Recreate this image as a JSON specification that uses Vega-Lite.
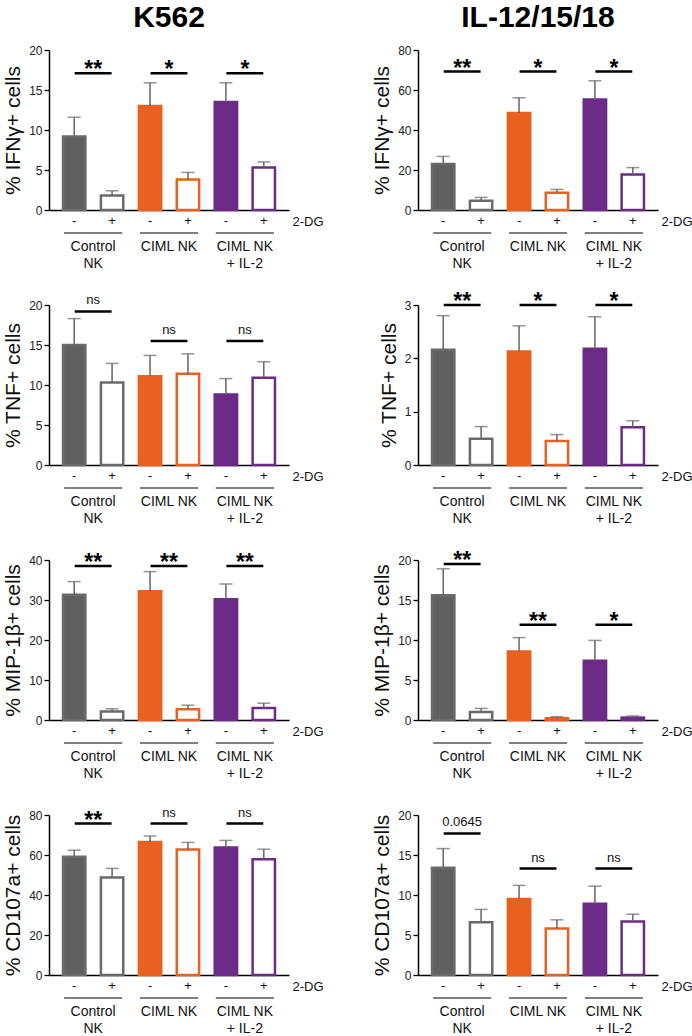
{
  "$schema": "https://vega.github.io/schema/vega-lite/v6.json",
  "padding": {"left": 2, "top": 3, "right": 16, "bottom": 3},
  "background": "white",
  "columns": 2,
  "bounds": "flush",
  "spacing": {"row": 95, "column": 129},
  "datasets": {
    "bars": [
      {"panel": "p1", "group": "Control NK", "treat": "-", "mean": 9.2, "upper": 11.6},
      {"panel": "p1", "group": "Control NK", "treat": "+", "mean": 1.8, "upper": 2.4},
      {"panel": "p1", "group": "CIML NK", "treat": "-", "mean": 13.0, "upper": 15.9},
      {"panel": "p1", "group": "CIML NK", "treat": "+", "mean": 3.8, "upper": 4.7},
      {"panel": "p1", "group": "CIML NK + IL-2", "treat": "-", "mean": 13.5, "upper": 15.9},
      {"panel": "p1", "group": "CIML NK + IL-2", "treat": "+", "mean": 5.3, "upper": 6.0},
      {"panel": "p2", "group": "Control NK", "treat": "-", "mean": 23.0, "upper": 26.8},
      {"panel": "p2", "group": "Control NK", "treat": "+", "mean": 4.6, "upper": 6.3},
      {"panel": "p2", "group": "CIML NK", "treat": "-", "mean": 48.5, "upper": 56.1},
      {"panel": "p2", "group": "CIML NK", "treat": "+", "mean": 8.6, "upper": 10.3},
      {"panel": "p2", "group": "CIML NK + IL-2", "treat": "-", "mean": 55.3, "upper": 64.6},
      {"panel": "p2", "group": "CIML NK + IL-2", "treat": "+", "mean": 17.8, "upper": 21.2},
      {"panel": "p3", "group": "Control NK", "treat": "-", "mean": 15.0, "upper": 18.3},
      {"panel": "p3", "group": "Control NK", "treat": "+", "mean": 10.3, "upper": 12.7},
      {"panel": "p3", "group": "CIML NK", "treat": "-", "mean": 11.1, "upper": 13.7},
      {"panel": "p3", "group": "CIML NK", "treat": "+", "mean": 11.4, "upper": 13.9},
      {"panel": "p3", "group": "CIML NK + IL-2", "treat": "-", "mean": 8.8, "upper": 10.8},
      {"panel": "p3", "group": "CIML NK + IL-2", "treat": "+", "mean": 10.9, "upper": 12.9},
      {"panel": "p4", "group": "Control NK", "treat": "-", "mean": 2.16, "upper": 2.8},
      {"panel": "p4", "group": "Control NK", "treat": "+", "mean": 0.49, "upper": 0.72},
      {"panel": "p4", "group": "CIML NK", "treat": "-", "mean": 2.13, "upper": 2.61},
      {"panel": "p4", "group": "CIML NK", "treat": "+", "mean": 0.45, "upper": 0.57},
      {"panel": "p4", "group": "CIML NK + IL-2", "treat": "-", "mean": 2.18, "upper": 2.78},
      {"panel": "p4", "group": "CIML NK + IL-2", "treat": "+", "mean": 0.71, "upper": 0.83},
      {"panel": "p5", "group": "Control NK", "treat": "-", "mean": 31.3, "upper": 34.6},
      {"panel": "p5", "group": "Control NK", "treat": "+", "mean": 2.1, "upper": 2.8},
      {"panel": "p5", "group": "CIML NK", "treat": "-", "mean": 32.2, "upper": 37.1},
      {"panel": "p5", "group": "CIML NK", "treat": "+", "mean": 2.7, "upper": 3.7},
      {"panel": "p5", "group": "CIML NK + IL-2", "treat": "-", "mean": 30.2, "upper": 34.0},
      {"panel": "p5", "group": "CIML NK + IL-2", "treat": "+", "mean": 3.0, "upper": 4.2},
      {"panel": "p6", "group": "Control NK", "treat": "-", "mean": 15.6, "upper": 18.9},
      {"panel": "p6", "group": "Control NK", "treat": "+", "mean": 1.0, "upper": 1.45},
      {"panel": "p6", "group": "CIML NK", "treat": "-", "mean": 8.55, "upper": 10.3},
      {"panel": "p6", "group": "CIML NK", "treat": "+", "mean": 0.22, "upper": 0.4},
      {"panel": "p6", "group": "CIML NK + IL-2", "treat": "-", "mean": 7.4, "upper": 9.95},
      {"panel": "p6", "group": "CIML NK + IL-2", "treat": "+", "mean": 0.3, "upper": 0.5},
      {"panel": "p7", "group": "Control NK", "treat": "-", "mean": 59.1, "upper": 62.4},
      {"panel": "p7", "group": "Control NK", "treat": "+", "mean": 48.8, "upper": 53.3},
      {"panel": "p7", "group": "CIML NK", "treat": "-", "mean": 66.5, "upper": 69.5},
      {"panel": "p7", "group": "CIML NK", "treat": "+", "mean": 62.7, "upper": 66.3},
      {"panel": "p7", "group": "CIML NK + IL-2", "treat": "-", "mean": 63.7, "upper": 67.3},
      {"panel": "p7", "group": "CIML NK + IL-2", "treat": "+", "mean": 57.9, "upper": 62.9},
      {"panel": "p8", "group": "Control NK", "treat": "-", "mean": 13.4, "upper": 15.8},
      {"panel": "p8", "group": "Control NK", "treat": "+", "mean": 6.6, "upper": 8.2},
      {"panel": "p8", "group": "CIML NK", "treat": "-", "mean": 9.5, "upper": 11.2},
      {"panel": "p8", "group": "CIML NK", "treat": "+", "mean": 5.8, "upper": 6.9},
      {"panel": "p8", "group": "CIML NK + IL-2", "treat": "-", "mean": 8.9, "upper": 11.1},
      {"panel": "p8", "group": "CIML NK + IL-2", "treat": "+", "mean": 6.7, "upper": 7.6}
    ],
    "sig": [
      {"panel": "p1", "group": "Control NK", "sig": "**", "bracket": 17.1},
      {"panel": "p1", "group": "CIML NK", "sig": "*", "bracket": 17.1},
      {"panel": "p1", "group": "CIML NK + IL-2", "sig": "*", "bracket": 17.1},
      {"panel": "p2", "group": "Control NK", "sig": "**", "bracket": 69.2},
      {"panel": "p2", "group": "CIML NK", "sig": "*", "bracket": 69.2},
      {"panel": "p2", "group": "CIML NK + IL-2", "sig": "*", "bracket": 69.2},
      {"panel": "p3", "group": "Control NK", "sig": "ns", "bracket": 19.2},
      {"panel": "p3", "group": "CIML NK", "sig": "ns", "bracket": 15.5},
      {"panel": "p3", "group": "CIML NK + IL-2", "sig": "ns", "bracket": 15.5},
      {"panel": "p4", "group": "Control NK", "sig": "**", "bracket": 3.0},
      {"panel": "p4", "group": "CIML NK", "sig": "*", "bracket": 3.0},
      {"panel": "p4", "group": "CIML NK + IL-2", "sig": "*", "bracket": 3.0},
      {"panel": "p5", "group": "Control NK", "sig": "**", "bracket": 38.5},
      {"panel": "p5", "group": "CIML NK", "sig": "**", "bracket": 38.5},
      {"panel": "p5", "group": "CIML NK + IL-2", "sig": "**", "bracket": 38.5},
      {"panel": "p6", "group": "Control NK", "sig": "**", "bracket": 19.5},
      {"panel": "p6", "group": "CIML NK", "sig": "**", "bracket": 11.9},
      {"panel": "p6", "group": "CIML NK + IL-2", "sig": "*", "bracket": 11.9},
      {"panel": "p7", "group": "Control NK", "sig": "**", "bracket": 75.7},
      {"panel": "p7", "group": "CIML NK", "sig": "ns", "bracket": 75.7},
      {"panel": "p7", "group": "CIML NK + IL-2", "sig": "ns", "bracket": 75.7},
      {"panel": "p8", "group": "Control NK", "sig": "0.0645", "bracket": 17.7},
      {"panel": "p8", "group": "CIML NK", "sig": "ns", "bracket": 13.3},
      {"panel": "p8", "group": "CIML NK + IL-2", "sig": "ns", "bracket": 13.3}
    ]
  },
  "concat": [
    {
      "width": 240, "height": 160,
      "title": {"text": "K562"},
      "encoding": {
        "x": {"field": "group", "type": "nominal", "sort": null, "title": "2-DG", "scale": {"domain": ["Control NK", "CIML NK", "CIML NK + IL-2"], "paddingInner": 0.176, "paddingOuter": 0.17}, "axis": {"labelExpr": "datum.value == 'Control NK' ? ['Control', 'NK'] : datum.value == 'CIML NK + IL-2' ? ['CIML NK', '+ IL-2'] : datum.value"}},
        "y": {"field": "mean", "type": "quantitative", "title": "% IFNγ+ cells", "scale": {"domain": [0, 20], "nice": false}, "axis": {"values": [0, 5, 10, 15, 20]}}
      },
      "layer": [
        {"data": {"name": "bars"}, "transform": [{"filter": "datum.panel == 'p1'"}], "mark": {"type": "bar", "strokeWidth": 2.5}, "encoding": {"xOffset": {"field": "treat", "type": "nominal", "sort": null, "scale": {"domain": ["-", "+"], "paddingInner": 0.41, "paddingOuter": 0.03}}, "fill": {"condition": {"test": "datum.treat == '+'", "value": "white"}, "field": "group", "type": "nominal", "scale": {"domain": ["Control NK", "CIML NK", "CIML NK + IL-2"], "range": ["#606060", "#EA6020", "#6B2B87"]}, "legend": null}, "stroke": {"field": "group", "type": "nominal", "scale": {"domain": ["Control NK", "CIML NK", "CIML NK + IL-2"], "range": ["#6a6a6a", "#EA6020", "#6B2B87"]}, "legend": null}}},
        {"data": {"name": "bars"}, "transform": [{"filter": "datum.panel == 'p1'"}], "mark": {"type": "rule", "color": "#666666", "strokeWidth": 1.5}, "encoding": {"xOffset": {"field": "treat", "type": "nominal", "sort": null}, "y2": {"field": "upper"}}},
        {"data": {"name": "bars"}, "transform": [{"filter": "datum.panel == 'p1'"}], "mark": {"type": "tick", "color": "#666666", "thickness": 1.5, "orient": "horizontal"}, "encoding": {"xOffset": {"field": "treat", "type": "nominal", "sort": null}, "y": {"field": "upper", "type": "quantitative", "title": "% IFNγ+ cells"}, "size": {"value": 13}}},
        {"data": {"name": "bars"}, "transform": [{"filter": "datum.panel == 'p1'"}], "mark": {"type": "text", "fontSize": 13, "dy": 11, "baseline": "middle", "fill": "#111111"}, "encoding": {"xOffset": {"field": "treat", "type": "nominal", "sort": null}, "y": {"datum": 0, "type": "quantitative"}, "text": {"field": "treat"}}},
        {"data": {"name": "bars"}, "transform": [{"filter": "datum.panel == 'p1' && datum.treat == '-'"}], "mark": {"type": "bar", "width": {"band": 0.93}, "fill": "transparent", "stroke": "black", "strokeWidth": 1.2, "yOffset": 23, "y2Offset": 23}, "encoding": {"y": {"datum": 0, "type": "quantitative"}, "y2": {"datum": 0}}},
        {"data": {"name": "sig"}, "transform": [{"filter": "datum.panel == 'p1'"}], "mark": {"type": "bar", "width": {"band": 0.59}, "fill": "black", "stroke": "black", "strokeWidth": 2.5}, "encoding": {"y": {"field": "bracket", "type": "quantitative"}, "y2": {"field": "bracket"}}},
        {"data": {"name": "sig"}, "transform": [{"filter": "datum.panel == 'p1' && indexof(datum.sig, '*') >= 0"}], "mark": {"type": "text", "fontSize": 23, "fontWeight": "bold", "baseline": "alphabetic", "dy": 4, "fill": "black"}, "encoding": {"y": {"field": "bracket", "type": "quantitative"}, "text": {"field": "sig"}}},
        {"data": {"name": "sig"}, "transform": [{"filter": "datum.panel == 'p1' && indexof(datum.sig, '*') < 0"}], "mark": {"type": "text", "fontSize": 13, "baseline": "alphabetic", "dy": -7, "fill": "#111111"}, "encoding": {"y": {"field": "bracket", "type": "quantitative"}, "text": {"field": "sig"}}}
      ]
    },
    {
      "width": 240, "height": 160,
      "title": {"text": "IL-12/15/18"},
      "encoding": {
        "x": {"field": "group", "type": "nominal", "sort": null, "title": "2-DG", "scale": {"domain": ["Control NK", "CIML NK", "CIML NK + IL-2"], "paddingInner": 0.176, "paddingOuter": 0.17}, "axis": {"labelExpr": "datum.value == 'Control NK' ? ['Control', 'NK'] : datum.value == 'CIML NK + IL-2' ? ['CIML NK', '+ IL-2'] : datum.value"}},
        "y": {"field": "mean", "type": "quantitative", "title": "% IFNγ+ cells", "scale": {"domain": [0, 80], "nice": false}, "axis": {"values": [0, 20, 40, 60, 80]}}
      },
      "layer": [
        {"data": {"name": "bars"}, "transform": [{"filter": "datum.panel == 'p2'"}], "mark": {"type": "bar", "strokeWidth": 2.5}, "encoding": {"xOffset": {"field": "treat", "type": "nominal", "sort": null, "scale": {"domain": ["-", "+"], "paddingInner": 0.41, "paddingOuter": 0.03}}, "fill": {"condition": {"test": "datum.treat == '+'", "value": "white"}, "field": "group", "type": "nominal", "scale": {"domain": ["Control NK", "CIML NK", "CIML NK + IL-2"], "range": ["#606060", "#EA6020", "#6B2B87"]}, "legend": null}, "stroke": {"field": "group", "type": "nominal", "scale": {"domain": ["Control NK", "CIML NK", "CIML NK + IL-2"], "range": ["#6a6a6a", "#EA6020", "#6B2B87"]}, "legend": null}}},
        {"data": {"name": "bars"}, "transform": [{"filter": "datum.panel == 'p2'"}], "mark": {"type": "rule", "color": "#666666", "strokeWidth": 1.5}, "encoding": {"xOffset": {"field": "treat", "type": "nominal", "sort": null}, "y2": {"field": "upper"}}},
        {"data": {"name": "bars"}, "transform": [{"filter": "datum.panel == 'p2'"}], "mark": {"type": "tick", "color": "#666666", "thickness": 1.5, "orient": "horizontal"}, "encoding": {"xOffset": {"field": "treat", "type": "nominal", "sort": null}, "y": {"field": "upper", "type": "quantitative", "title": "% IFNγ+ cells"}, "size": {"value": 13}}},
        {"data": {"name": "bars"}, "transform": [{"filter": "datum.panel == 'p2'"}], "mark": {"type": "text", "fontSize": 13, "dy": 11, "baseline": "middle", "fill": "#111111"}, "encoding": {"xOffset": {"field": "treat", "type": "nominal", "sort": null}, "y": {"datum": 0, "type": "quantitative"}, "text": {"field": "treat"}}},
        {"data": {"name": "bars"}, "transform": [{"filter": "datum.panel == 'p2' && datum.treat == '-'"}], "mark": {"type": "bar", "width": {"band": 0.93}, "fill": "transparent", "stroke": "black", "strokeWidth": 1.2, "yOffset": 23, "y2Offset": 23}, "encoding": {"y": {"datum": 0, "type": "quantitative"}, "y2": {"datum": 0}}},
        {"data": {"name": "sig"}, "transform": [{"filter": "datum.panel == 'p2'"}], "mark": {"type": "bar", "width": {"band": 0.59}, "fill": "black", "stroke": "black", "strokeWidth": 2.5}, "encoding": {"y": {"field": "bracket", "type": "quantitative"}, "y2": {"field": "bracket"}}},
        {"data": {"name": "sig"}, "transform": [{"filter": "datum.panel == 'p2' && indexof(datum.sig, '*') >= 0"}], "mark": {"type": "text", "fontSize": 23, "fontWeight": "bold", "baseline": "alphabetic", "dy": 4, "fill": "black"}, "encoding": {"y": {"field": "bracket", "type": "quantitative"}, "text": {"field": "sig"}}},
        {"data": {"name": "sig"}, "transform": [{"filter": "datum.panel == 'p2' && indexof(datum.sig, '*') < 0"}], "mark": {"type": "text", "fontSize": 13, "baseline": "alphabetic", "dy": -7, "fill": "#111111"}, "encoding": {"y": {"field": "bracket", "type": "quantitative"}, "text": {"field": "sig"}}}
      ]
    },
    {
      "width": 240, "height": 160,
      "encoding": {
        "x": {"field": "group", "type": "nominal", "sort": null, "title": "2-DG", "scale": {"domain": ["Control NK", "CIML NK", "CIML NK + IL-2"], "paddingInner": 0.176, "paddingOuter": 0.17}, "axis": {"labelExpr": "datum.value == 'Control NK' ? ['Control', 'NK'] : datum.value == 'CIML NK + IL-2' ? ['CIML NK', '+ IL-2'] : datum.value"}},
        "y": {"field": "mean", "type": "quantitative", "title": "% TNF+ cells", "scale": {"domain": [0, 20], "nice": false}, "axis": {"values": [0, 5, 10, 15, 20]}}
      },
      "layer": [
        {"data": {"name": "bars"}, "transform": [{"filter": "datum.panel == 'p3'"}], "mark": {"type": "bar", "strokeWidth": 2.5}, "encoding": {"xOffset": {"field": "treat", "type": "nominal", "sort": null, "scale": {"domain": ["-", "+"], "paddingInner": 0.41, "paddingOuter": 0.03}}, "fill": {"condition": {"test": "datum.treat == '+'", "value": "white"}, "field": "group", "type": "nominal", "scale": {"domain": ["Control NK", "CIML NK", "CIML NK + IL-2"], "range": ["#606060", "#EA6020", "#6B2B87"]}, "legend": null}, "stroke": {"field": "group", "type": "nominal", "scale": {"domain": ["Control NK", "CIML NK", "CIML NK + IL-2"], "range": ["#6a6a6a", "#EA6020", "#6B2B87"]}, "legend": null}}},
        {"data": {"name": "bars"}, "transform": [{"filter": "datum.panel == 'p3'"}], "mark": {"type": "rule", "color": "#666666", "strokeWidth": 1.5}, "encoding": {"xOffset": {"field": "treat", "type": "nominal", "sort": null}, "y2": {"field": "upper"}}},
        {"data": {"name": "bars"}, "transform": [{"filter": "datum.panel == 'p3'"}], "mark": {"type": "tick", "color": "#666666", "thickness": 1.5, "orient": "horizontal"}, "encoding": {"xOffset": {"field": "treat", "type": "nominal", "sort": null}, "y": {"field": "upper", "type": "quantitative", "title": "% TNF+ cells"}, "size": {"value": 13}}},
        {"data": {"name": "bars"}, "transform": [{"filter": "datum.panel == 'p3'"}], "mark": {"type": "text", "fontSize": 13, "dy": 11, "baseline": "middle", "fill": "#111111"}, "encoding": {"xOffset": {"field": "treat", "type": "nominal", "sort": null}, "y": {"datum": 0, "type": "quantitative"}, "text": {"field": "treat"}}},
        {"data": {"name": "bars"}, "transform": [{"filter": "datum.panel == 'p3' && datum.treat == '-'"}], "mark": {"type": "bar", "width": {"band": 0.93}, "fill": "transparent", "stroke": "black", "strokeWidth": 1.2, "yOffset": 23, "y2Offset": 23}, "encoding": {"y": {"datum": 0, "type": "quantitative"}, "y2": {"datum": 0}}},
        {"data": {"name": "sig"}, "transform": [{"filter": "datum.panel == 'p3'"}], "mark": {"type": "bar", "width": {"band": 0.59}, "fill": "black", "stroke": "black", "strokeWidth": 2.5}, "encoding": {"y": {"field": "bracket", "type": "quantitative"}, "y2": {"field": "bracket"}}},
        {"data": {"name": "sig"}, "transform": [{"filter": "datum.panel == 'p3' && indexof(datum.sig, '*') >= 0"}], "mark": {"type": "text", "fontSize": 23, "fontWeight": "bold", "baseline": "alphabetic", "dy": 4, "fill": "black"}, "encoding": {"y": {"field": "bracket", "type": "quantitative"}, "text": {"field": "sig"}}},
        {"data": {"name": "sig"}, "transform": [{"filter": "datum.panel == 'p3' && indexof(datum.sig, '*') < 0"}], "mark": {"type": "text", "fontSize": 13, "baseline": "alphabetic", "dy": -7, "fill": "#111111"}, "encoding": {"y": {"field": "bracket", "type": "quantitative"}, "text": {"field": "sig"}}}
      ]
    },
    {
      "width": 240, "height": 160,
      "encoding": {
        "x": {"field": "group", "type": "nominal", "sort": null, "title": "2-DG", "scale": {"domain": ["Control NK", "CIML NK", "CIML NK + IL-2"], "paddingInner": 0.176, "paddingOuter": 0.17}, "axis": {"labelExpr": "datum.value == 'Control NK' ? ['Control', 'NK'] : datum.value == 'CIML NK + IL-2' ? ['CIML NK', '+ IL-2'] : datum.value"}},
        "y": {"field": "mean", "type": "quantitative", "title": "% TNF+ cells", "scale": {"domain": [0, 3], "nice": false}, "axis": {"values": [0, 1, 2, 3]}}
      },
      "layer": [
        {"data": {"name": "bars"}, "transform": [{"filter": "datum.panel == 'p4'"}], "mark": {"type": "bar", "strokeWidth": 2.5}, "encoding": {"xOffset": {"field": "treat", "type": "nominal", "sort": null, "scale": {"domain": ["-", "+"], "paddingInner": 0.41, "paddingOuter": 0.03}}, "fill": {"condition": {"test": "datum.treat == '+'", "value": "white"}, "field": "group", "type": "nominal", "scale": {"domain": ["Control NK", "CIML NK", "CIML NK + IL-2"], "range": ["#606060", "#EA6020", "#6B2B87"]}, "legend": null}, "stroke": {"field": "group", "type": "nominal", "scale": {"domain": ["Control NK", "CIML NK", "CIML NK + IL-2"], "range": ["#6a6a6a", "#EA6020", "#6B2B87"]}, "legend": null}}},
        {"data": {"name": "bars"}, "transform": [{"filter": "datum.panel == 'p4'"}], "mark": {"type": "rule", "color": "#666666", "strokeWidth": 1.5}, "encoding": {"xOffset": {"field": "treat", "type": "nominal", "sort": null}, "y2": {"field": "upper"}}},
        {"data": {"name": "bars"}, "transform": [{"filter": "datum.panel == 'p4'"}], "mark": {"type": "tick", "color": "#666666", "thickness": 1.5, "orient": "horizontal"}, "encoding": {"xOffset": {"field": "treat", "type": "nominal", "sort": null}, "y": {"field": "upper", "type": "quantitative", "title": "% TNF+ cells"}, "size": {"value": 13}}},
        {"data": {"name": "bars"}, "transform": [{"filter": "datum.panel == 'p4'"}], "mark": {"type": "text", "fontSize": 13, "dy": 11, "baseline": "middle", "fill": "#111111"}, "encoding": {"xOffset": {"field": "treat", "type": "nominal", "sort": null}, "y": {"datum": 0, "type": "quantitative"}, "text": {"field": "treat"}}},
        {"data": {"name": "bars"}, "transform": [{"filter": "datum.panel == 'p4' && datum.treat == '-'"}], "mark": {"type": "bar", "width": {"band": 0.93}, "fill": "transparent", "stroke": "black", "strokeWidth": 1.2, "yOffset": 23, "y2Offset": 23}, "encoding": {"y": {"datum": 0, "type": "quantitative"}, "y2": {"datum": 0}}},
        {"data": {"name": "sig"}, "transform": [{"filter": "datum.panel == 'p4'"}], "mark": {"type": "bar", "width": {"band": 0.59}, "fill": "black", "stroke": "black", "strokeWidth": 2.5}, "encoding": {"y": {"field": "bracket", "type": "quantitative"}, "y2": {"field": "bracket"}}},
        {"data": {"name": "sig"}, "transform": [{"filter": "datum.panel == 'p4' && indexof(datum.sig, '*') >= 0"}], "mark": {"type": "text", "fontSize": 23, "fontWeight": "bold", "baseline": "alphabetic", "dy": 4, "fill": "black"}, "encoding": {"y": {"field": "bracket", "type": "quantitative"}, "text": {"field": "sig"}}},
        {"data": {"name": "sig"}, "transform": [{"filter": "datum.panel == 'p4' && indexof(datum.sig, '*') < 0"}], "mark": {"type": "text", "fontSize": 13, "baseline": "alphabetic", "dy": -7, "fill": "#111111"}, "encoding": {"y": {"field": "bracket", "type": "quantitative"}, "text": {"field": "sig"}}}
      ]
    },
    {
      "width": 240, "height": 160,
      "encoding": {
        "x": {"field": "group", "type": "nominal", "sort": null, "title": "2-DG", "scale": {"domain": ["Control NK", "CIML NK", "CIML NK + IL-2"], "paddingInner": 0.176, "paddingOuter": 0.17}, "axis": {"labelExpr": "datum.value == 'Control NK' ? ['Control', 'NK'] : datum.value == 'CIML NK + IL-2' ? ['CIML NK', '+ IL-2'] : datum.value"}},
        "y": {"field": "mean", "type": "quantitative", "title": "% MIP-1β+ cells", "scale": {"domain": [0, 40], "nice": false}, "axis": {"values": [0, 10, 20, 30, 40]}}
      },
      "layer": [
        {"data": {"name": "bars"}, "transform": [{"filter": "datum.panel == 'p5'"}], "mark": {"type": "bar", "strokeWidth": 2.5}, "encoding": {"xOffset": {"field": "treat", "type": "nominal", "sort": null, "scale": {"domain": ["-", "+"], "paddingInner": 0.41, "paddingOuter": 0.03}}, "fill": {"condition": {"test": "datum.treat == '+'", "value": "white"}, "field": "group", "type": "nominal", "scale": {"domain": ["Control NK", "CIML NK", "CIML NK + IL-2"], "range": ["#606060", "#EA6020", "#6B2B87"]}, "legend": null}, "stroke": {"field": "group", "type": "nominal", "scale": {"domain": ["Control NK", "CIML NK", "CIML NK + IL-2"], "range": ["#6a6a6a", "#EA6020", "#6B2B87"]}, "legend": null}}},
        {"data": {"name": "bars"}, "transform": [{"filter": "datum.panel == 'p5'"}], "mark": {"type": "rule", "color": "#666666", "strokeWidth": 1.5}, "encoding": {"xOffset": {"field": "treat", "type": "nominal", "sort": null}, "y2": {"field": "upper"}}},
        {"data": {"name": "bars"}, "transform": [{"filter": "datum.panel == 'p5'"}], "mark": {"type": "tick", "color": "#666666", "thickness": 1.5, "orient": "horizontal"}, "encoding": {"xOffset": {"field": "treat", "type": "nominal", "sort": null}, "y": {"field": "upper", "type": "quantitative", "title": "% MIP-1β+ cells"}, "size": {"value": 13}}},
        {"data": {"name": "bars"}, "transform": [{"filter": "datum.panel == 'p5'"}], "mark": {"type": "text", "fontSize": 13, "dy": 11, "baseline": "middle", "fill": "#111111"}, "encoding": {"xOffset": {"field": "treat", "type": "nominal", "sort": null}, "y": {"datum": 0, "type": "quantitative"}, "text": {"field": "treat"}}},
        {"data": {"name": "bars"}, "transform": [{"filter": "datum.panel == 'p5' && datum.treat == '-'"}], "mark": {"type": "bar", "width": {"band": 0.93}, "fill": "transparent", "stroke": "black", "strokeWidth": 1.2, "yOffset": 23, "y2Offset": 23}, "encoding": {"y": {"datum": 0, "type": "quantitative"}, "y2": {"datum": 0}}},
        {"data": {"name": "sig"}, "transform": [{"filter": "datum.panel == 'p5'"}], "mark": {"type": "bar", "width": {"band": 0.59}, "fill": "black", "stroke": "black", "strokeWidth": 2.5}, "encoding": {"y": {"field": "bracket", "type": "quantitative"}, "y2": {"field": "bracket"}}},
        {"data": {"name": "sig"}, "transform": [{"filter": "datum.panel == 'p5' && indexof(datum.sig, '*') >= 0"}], "mark": {"type": "text", "fontSize": 23, "fontWeight": "bold", "baseline": "alphabetic", "dy": 4, "fill": "black"}, "encoding": {"y": {"field": "bracket", "type": "quantitative"}, "text": {"field": "sig"}}},
        {"data": {"name": "sig"}, "transform": [{"filter": "datum.panel == 'p5' && indexof(datum.sig, '*') < 0"}], "mark": {"type": "text", "fontSize": 13, "baseline": "alphabetic", "dy": -7, "fill": "#111111"}, "encoding": {"y": {"field": "bracket", "type": "quantitative"}, "text": {"field": "sig"}}}
      ]
    },
    {
      "width": 240, "height": 160,
      "encoding": {
        "x": {"field": "group", "type": "nominal", "sort": null, "title": "2-DG", "scale": {"domain": ["Control NK", "CIML NK", "CIML NK + IL-2"], "paddingInner": 0.176, "paddingOuter": 0.17}, "axis": {"labelExpr": "datum.value == 'Control NK' ? ['Control', 'NK'] : datum.value == 'CIML NK + IL-2' ? ['CIML NK', '+ IL-2'] : datum.value"}},
        "y": {"field": "mean", "type": "quantitative", "title": "% MIP-1β+ cells", "scale": {"domain": [0, 20], "nice": false}, "axis": {"values": [0, 5, 10, 15, 20]}}
      },
      "layer": [
        {"data": {"name": "bars"}, "transform": [{"filter": "datum.panel == 'p6'"}], "mark": {"type": "bar", "strokeWidth": 2.5}, "encoding": {"xOffset": {"field": "treat", "type": "nominal", "sort": null, "scale": {"domain": ["-", "+"], "paddingInner": 0.41, "paddingOuter": 0.03}}, "fill": {"condition": {"test": "datum.treat == '+'", "value": "white"}, "field": "group", "type": "nominal", "scale": {"domain": ["Control NK", "CIML NK", "CIML NK + IL-2"], "range": ["#606060", "#EA6020", "#6B2B87"]}, "legend": null}, "stroke": {"field": "group", "type": "nominal", "scale": {"domain": ["Control NK", "CIML NK", "CIML NK + IL-2"], "range": ["#6a6a6a", "#EA6020", "#6B2B87"]}, "legend": null}}},
        {"data": {"name": "bars"}, "transform": [{"filter": "datum.panel == 'p6'"}], "mark": {"type": "rule", "color": "#666666", "strokeWidth": 1.5}, "encoding": {"xOffset": {"field": "treat", "type": "nominal", "sort": null}, "y2": {"field": "upper"}}},
        {"data": {"name": "bars"}, "transform": [{"filter": "datum.panel == 'p6'"}], "mark": {"type": "tick", "color": "#666666", "thickness": 1.5, "orient": "horizontal"}, "encoding": {"xOffset": {"field": "treat", "type": "nominal", "sort": null}, "y": {"field": "upper", "type": "quantitative", "title": "% MIP-1β+ cells"}, "size": {"value": 13}}},
        {"data": {"name": "bars"}, "transform": [{"filter": "datum.panel == 'p6'"}], "mark": {"type": "text", "fontSize": 13, "dy": 11, "baseline": "middle", "fill": "#111111"}, "encoding": {"xOffset": {"field": "treat", "type": "nominal", "sort": null}, "y": {"datum": 0, "type": "quantitative"}, "text": {"field": "treat"}}},
        {"data": {"name": "bars"}, "transform": [{"filter": "datum.panel == 'p6' && datum.treat == '-'"}], "mark": {"type": "bar", "width": {"band": 0.93}, "fill": "transparent", "stroke": "black", "strokeWidth": 1.2, "yOffset": 23, "y2Offset": 23}, "encoding": {"y": {"datum": 0, "type": "quantitative"}, "y2": {"datum": 0}}},
        {"data": {"name": "sig"}, "transform": [{"filter": "datum.panel == 'p6'"}], "mark": {"type": "bar", "width": {"band": 0.59}, "fill": "black", "stroke": "black", "strokeWidth": 2.5}, "encoding": {"y": {"field": "bracket", "type": "quantitative"}, "y2": {"field": "bracket"}}},
        {"data": {"name": "sig"}, "transform": [{"filter": "datum.panel == 'p6' && indexof(datum.sig, '*') >= 0"}], "mark": {"type": "text", "fontSize": 23, "fontWeight": "bold", "baseline": "alphabetic", "dy": 4, "fill": "black"}, "encoding": {"y": {"field": "bracket", "type": "quantitative"}, "text": {"field": "sig"}}},
        {"data": {"name": "sig"}, "transform": [{"filter": "datum.panel == 'p6' && indexof(datum.sig, '*') < 0"}], "mark": {"type": "text", "fontSize": 13, "baseline": "alphabetic", "dy": -7, "fill": "#111111"}, "encoding": {"y": {"field": "bracket", "type": "quantitative"}, "text": {"field": "sig"}}}
      ]
    },
    {
      "width": 240, "height": 160,
      "encoding": {
        "x": {"field": "group", "type": "nominal", "sort": null, "title": "2-DG", "scale": {"domain": ["Control NK", "CIML NK", "CIML NK + IL-2"], "paddingInner": 0.176, "paddingOuter": 0.17}, "axis": {"labelExpr": "datum.value == 'Control NK' ? ['Control', 'NK'] : datum.value == 'CIML NK + IL-2' ? ['CIML NK', '+ IL-2'] : datum.value"}},
        "y": {"field": "mean", "type": "quantitative", "title": "% CD107a+ cells", "scale": {"domain": [0, 80], "nice": false}, "axis": {"values": [0, 20, 40, 60, 80]}}
      },
      "layer": [
        {"data": {"name": "bars"}, "transform": [{"filter": "datum.panel == 'p7'"}], "mark": {"type": "bar", "strokeWidth": 2.5}, "encoding": {"xOffset": {"field": "treat", "type": "nominal", "sort": null, "scale": {"domain": ["-", "+"], "paddingInner": 0.41, "paddingOuter": 0.03}}, "fill": {"condition": {"test": "datum.treat == '+'", "value": "white"}, "field": "group", "type": "nominal", "scale": {"domain": ["Control NK", "CIML NK", "CIML NK + IL-2"], "range": ["#606060", "#EA6020", "#6B2B87"]}, "legend": null}, "stroke": {"field": "group", "type": "nominal", "scale": {"domain": ["Control NK", "CIML NK", "CIML NK + IL-2"], "range": ["#6a6a6a", "#EA6020", "#6B2B87"]}, "legend": null}}},
        {"data": {"name": "bars"}, "transform": [{"filter": "datum.panel == 'p7'"}], "mark": {"type": "rule", "color": "#666666", "strokeWidth": 1.5}, "encoding": {"xOffset": {"field": "treat", "type": "nominal", "sort": null}, "y2": {"field": "upper"}}},
        {"data": {"name": "bars"}, "transform": [{"filter": "datum.panel == 'p7'"}], "mark": {"type": "tick", "color": "#666666", "thickness": 1.5, "orient": "horizontal"}, "encoding": {"xOffset": {"field": "treat", "type": "nominal", "sort": null}, "y": {"field": "upper", "type": "quantitative", "title": "% CD107a+ cells"}, "size": {"value": 13}}},
        {"data": {"name": "bars"}, "transform": [{"filter": "datum.panel == 'p7'"}], "mark": {"type": "text", "fontSize": 13, "dy": 11, "baseline": "middle", "fill": "#111111"}, "encoding": {"xOffset": {"field": "treat", "type": "nominal", "sort": null}, "y": {"datum": 0, "type": "quantitative"}, "text": {"field": "treat"}}},
        {"data": {"name": "bars"}, "transform": [{"filter": "datum.panel == 'p7' && datum.treat == '-'"}], "mark": {"type": "bar", "width": {"band": 0.93}, "fill": "transparent", "stroke": "black", "strokeWidth": 1.2, "yOffset": 23, "y2Offset": 23}, "encoding": {"y": {"datum": 0, "type": "quantitative"}, "y2": {"datum": 0}}},
        {"data": {"name": "sig"}, "transform": [{"filter": "datum.panel == 'p7'"}], "mark": {"type": "bar", "width": {"band": 0.59}, "fill": "black", "stroke": "black", "strokeWidth": 2.5}, "encoding": {"y": {"field": "bracket", "type": "quantitative"}, "y2": {"field": "bracket"}}},
        {"data": {"name": "sig"}, "transform": [{"filter": "datum.panel == 'p7' && indexof(datum.sig, '*') >= 0"}], "mark": {"type": "text", "fontSize": 23, "fontWeight": "bold", "baseline": "alphabetic", "dy": 4, "fill": "black"}, "encoding": {"y": {"field": "bracket", "type": "quantitative"}, "text": {"field": "sig"}}},
        {"data": {"name": "sig"}, "transform": [{"filter": "datum.panel == 'p7' && indexof(datum.sig, '*') < 0"}], "mark": {"type": "text", "fontSize": 13, "baseline": "alphabetic", "dy": -7, "fill": "#111111"}, "encoding": {"y": {"field": "bracket", "type": "quantitative"}, "text": {"field": "sig"}}}
      ]
    },
    {
      "width": 240, "height": 160,
      "encoding": {
        "x": {"field": "group", "type": "nominal", "sort": null, "title": "2-DG", "scale": {"domain": ["Control NK", "CIML NK", "CIML NK + IL-2"], "paddingInner": 0.176, "paddingOuter": 0.17}, "axis": {"labelExpr": "datum.value == 'Control NK' ? ['Control', 'NK'] : datum.value == 'CIML NK + IL-2' ? ['CIML NK', '+ IL-2'] : datum.value"}},
        "y": {"field": "mean", "type": "quantitative", "title": "% CD107a+ cells", "scale": {"domain": [0, 20], "nice": false}, "axis": {"values": [0, 5, 10, 15, 20]}}
      },
      "layer": [
        {"data": {"name": "bars"}, "transform": [{"filter": "datum.panel == 'p8'"}], "mark": {"type": "bar", "strokeWidth": 2.5}, "encoding": {"xOffset": {"field": "treat", "type": "nominal", "sort": null, "scale": {"domain": ["-", "+"], "paddingInner": 0.41, "paddingOuter": 0.03}}, "fill": {"condition": {"test": "datum.treat == '+'", "value": "white"}, "field": "group", "type": "nominal", "scale": {"domain": ["Control NK", "CIML NK", "CIML NK + IL-2"], "range": ["#606060", "#EA6020", "#6B2B87"]}, "legend": null}, "stroke": {"field": "group", "type": "nominal", "scale": {"domain": ["Control NK", "CIML NK", "CIML NK + IL-2"], "range": ["#6a6a6a", "#EA6020", "#6B2B87"]}, "legend": null}}},
        {"data": {"name": "bars"}, "transform": [{"filter": "datum.panel == 'p8'"}], "mark": {"type": "rule", "color": "#666666", "strokeWidth": 1.5}, "encoding": {"xOffset": {"field": "treat", "type": "nominal", "sort": null}, "y2": {"field": "upper"}}},
        {"data": {"name": "bars"}, "transform": [{"filter": "datum.panel == 'p8'"}], "mark": {"type": "tick", "color": "#666666", "thickness": 1.5, "orient": "horizontal"}, "encoding": {"xOffset": {"field": "treat", "type": "nominal", "sort": null}, "y": {"field": "upper", "type": "quantitative", "title": "% CD107a+ cells"}, "size": {"value": 13}}},
        {"data": {"name": "bars"}, "transform": [{"filter": "datum.panel == 'p8'"}], "mark": {"type": "text", "fontSize": 13, "dy": 11, "baseline": "middle", "fill": "#111111"}, "encoding": {"xOffset": {"field": "treat", "type": "nominal", "sort": null}, "y": {"datum": 0, "type": "quantitative"}, "text": {"field": "treat"}}},
        {"data": {"name": "bars"}, "transform": [{"filter": "datum.panel == 'p8' && datum.treat == '-'"}], "mark": {"type": "bar", "width": {"band": 0.93}, "fill": "transparent", "stroke": "black", "strokeWidth": 1.2, "yOffset": 23, "y2Offset": 23}, "encoding": {"y": {"datum": 0, "type": "quantitative"}, "y2": {"datum": 0}}},
        {"data": {"name": "sig"}, "transform": [{"filter": "datum.panel == 'p8'"}], "mark": {"type": "bar", "width": {"band": 0.59}, "fill": "black", "stroke": "black", "strokeWidth": 2.5}, "encoding": {"y": {"field": "bracket", "type": "quantitative"}, "y2": {"field": "bracket"}}},
        {"data": {"name": "sig"}, "transform": [{"filter": "datum.panel == 'p8' && indexof(datum.sig, '*') >= 0"}], "mark": {"type": "text", "fontSize": 23, "fontWeight": "bold", "baseline": "alphabetic", "dy": 4, "fill": "black"}, "encoding": {"y": {"field": "bracket", "type": "quantitative"}, "text": {"field": "sig"}}},
        {"data": {"name": "sig"}, "transform": [{"filter": "datum.panel == 'p8' && indexof(datum.sig, '*') < 0"}], "mark": {"type": "text", "fontSize": 13, "baseline": "alphabetic", "dy": -7, "fill": "#111111"}, "encoding": {"y": {"field": "bracket", "type": "quantitative"}, "text": {"field": "sig"}}}
      ]
    }
  ],
  "config": {
    "font": "Liberation Sans",
    "view": {"stroke": null},
    "axis": {"domainColor": "black", "domainWidth": 1.5, "tickColor": "black", "labelColor": "#222222", "grid": false},
    "axisY": {"tickSize": 5, "tickWidth": 1.3, "labelFontSize": 12, "labelPadding": 2, "titleFontSize": 21, "titleFontWeight": "normal", "titleColor": "#111111", "titlePadding": 5},
    "axisX": {"ticks": false, "labelFontSize": 14, "labelPadding": 29, "labelLineHeight": 17, "labelAngle": 0, "labelColor": "#111111", "titleFontSize": 13, "titleFontWeight": "normal", "titleColor": "#111111", "titleAngle": 0, "titleAlign": "left", "titleBaseline": "middle", "titleX": 243, "titleY": 11},
    "title": {"fontSize": 30, "fontWeight": "bold", "color": "black", "frame": "group", "anchor": "middle", "offset": 11}
  }
}
